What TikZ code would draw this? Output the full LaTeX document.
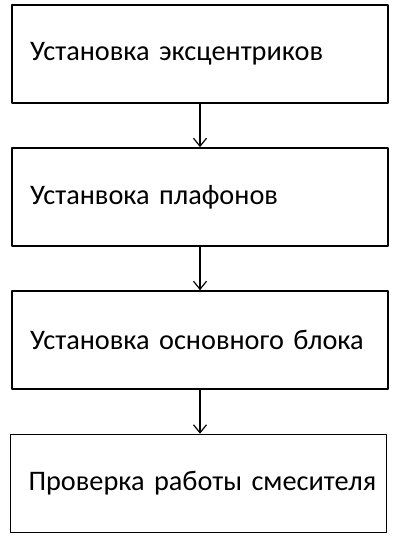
\documentclass[tikz,border=0pt]{standalone}
\usepackage{fontspec}
\setmainfont{Carlito}[WordSpace=0.75]
\usetikzlibrary{arrows.meta}
\begin{document}
\begin{tikzpicture}[x=1pt,y=-1pt,>={Straight Barb[length=8pt,width=13pt]}, font=\fontsize{28.3}{32}\selectfont, line join=round]
	\tikzset{etap/.style={draw,line width=1.6pt,minimum height=98pt,text width=340pt,inner xsep=18pt,align=left}}
	\useasboundingbox (0,0) rectangle (409,540);
	\node[etap] (e1) at (200,54) {Установка эксцентриков};
	\node[etap] (e2) at (200,197) {Устанвока плафонов};
	\node[etap] (e3) at (200,340) {Установка основного блока};
	\node[etap] (e4) at (198.5,483.5) {\mbox{Проверка работы смесителя}};
	\draw[->,line width=1.2pt] (e1) -- (e2);
	\draw[->,line width=1.2pt] (e2) -- (e3);
	\draw[->,line width=1.2pt] (e3.south) -- (e3.south |- e4.north);
\end{tikzpicture}
\end{document}
